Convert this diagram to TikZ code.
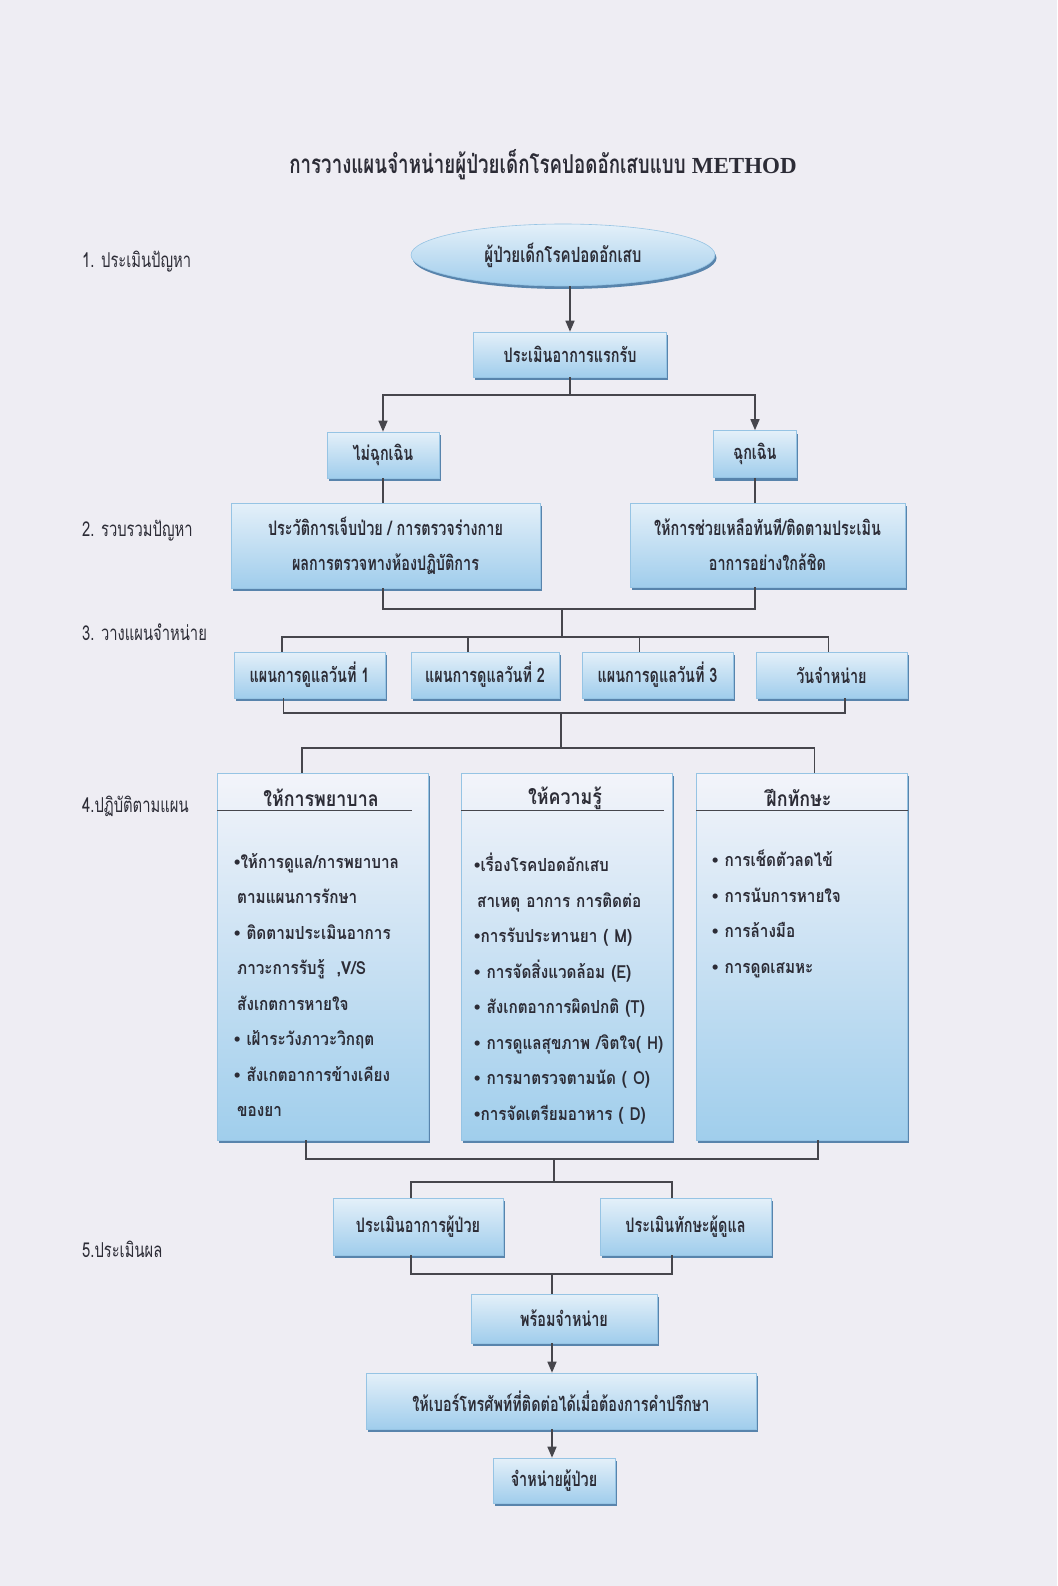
\documentclass[tikz,border=0pt]{standalone}
\usepackage{fontspec}
\usetikzlibrary{shapes.geometric,arrows.meta,shadows,calc}
\newfontfamily\thaiC[Script=Thai,FakeStretch=0.72]{Loma}
\newfontfamily\thaiM[Script=Thai,FakeStretch=0.85]{Loma}
\newfontfamily\serifL{Liberation Serif}
\newfontfamily\bulf{Liberation Sans}
\newcommand\bul{{\bulf •}}
\newcommand\boxfnt{\fontsize{20}{35}\selectfont\thaiC\bfseries}
\newcommand\lblfnt{\fontsize{20.5}{24}\selectfont\thaiC}
\newcommand\hdrfnt{\fontsize{21}{24}\selectfont\thaiM\bfseries}
\definecolor{pagebg}{RGB}{238,237,243}
\definecolor{boxtop}{RGB}{228,240,249}
\definecolor{boxbot}{RGB}{160,205,236}
\definecolor{boxedge}{RGB}{150,196,228}
\definecolor{boxshad}{RGB}{88,132,172}
\definecolor{coltop}{RGB}{243,244,250}
\definecolor{colmid}{RGB}{224,235,246}
\definecolor{colbot}{RGB}{160,206,236}
\definecolor{ink}{RGB}{44,44,54}
\definecolor{wirec}{RGB}{70,70,76}
\tikzset{
  x=1pt, y=-1pt,
  wire/.style={draw=wirec, line width=1.5pt},
  arr/.style={wire, -{Triangle[length=11pt,width=9pt]}},
  fbox/.style={draw=boxedge, line width=0.6pt, top color=boxtop, bottom color=boxbot,
    drop shadow={shadow xshift=1.5pt, shadow yshift=-3pt, fill=boxshad, opacity=1},
    inner sep=0pt, text=ink, font=\boxfnt, align=center},
  colbox/.style={draw=boxedge, line width=0.6pt, top color=coltop, middle color=colmid, bottom color=colbot,
    drop shadow={shadow xshift=1.5pt, shadow yshift=-3pt, fill=boxshad, opacity=1},
    inner sep=0pt, minimum width=211pt, minimum height=367pt},
  lbl/.style={anchor=west, inner sep=0pt, text=ink, font=\lblfnt},
  hdr/.style={inner sep=0pt, text=ink, font=\hdrfnt},
  coltxt/.style={anchor=north west, inner sep=0pt, text=ink, text width=200pt, align=left},
  uline/.style={draw=wirec, line width=1.3pt}
}
\begin{document}
\begin{tikzpicture}
\useasboundingbox (0,0) rectangle (1057,1586);
\fill[pagebg] (0,0) rectangle (1057,1586);

% title
\node[inner sep=0pt, text=ink] (title) at (543,165)
  {\fontsize{26}{30}\selectfont\thaiC\bfseries การวางแผนจำหน่ายผู้ป่วยเด็กโรคปอดอักเสบแบบ {\serifL\bfseries\fontsize{23}{26}\selectfont METHOD}};

% left labels
\node[lbl] (l1) at (82,262) {1. ประเมินปัญหา};
\node[lbl] (l2) at (82,531) {2. รวบรวมปัญหา};
\node[lbl] (l3) at (82,632) {3. วางแผนจำหน่าย};
\node[lbl] (l4) at (82,806) {4.ปฏิบัติตามแผน};
\node[lbl] (l5) at (82,1249) {5.ประเมินผล};

% top part
\node[fbox, ellipse, minimum width=304pt, minimum height=62pt, font=\fontsize{21}{24}\selectfont\thaiC\bfseries] (pt) at (563,255) {ผู้ป่วยเด็กโรคปอดอักเสบ};
\node[fbox, minimum width=193pt, minimum height=45pt] (first) at (570,354.5) {ประเมินอาการแรกรับ};
\node[fbox, minimum width=112pt, minimum height=46pt] (nE) at (383,455) {ไม่ฉุกเฉิน};
\node[fbox, minimum width=83pt, minimum height=47pt] (E) at (755,454) {ฉุกเฉิน};
\node[fbox, minimum width=309pt, minimum height=85pt] (hist) at (385.5,545.5) {ประวัติการเจ็บป่วย / การตรวจร่างกาย\\ผลการตรวจทางห้องปฏิบัติการ};
\node[fbox, minimum width=275pt, minimum height=84pt] (help) at (767.5,545) {ให้การช่วยเหลือทันที/ติดตามประเมิน\\อาการอย่างใกล้ชิด};

% day plans
\node[fbox, minimum width=151pt, minimum height=46pt] (day1) at (309.5,675) {แผนการดูแลวันที่ 1};
\node[fbox, minimum width=148pt, minimum height=46pt] (day2) at (485,675) {แผนการดูแลวันที่ 2};
\node[fbox, minimum width=151pt, minimum height=46pt] (day3) at (657.5,675) {แผนการดูแลวันที่ 3};
\node[fbox, minimum width=151pt, minimum height=46pt] (day4) at (831.5,675) {วันจำหน่าย};

% columns
\node[colbox] (col1) at (323,956.5) {};
\node[colbox] (col2) at (567,956.5) {};
\node[colbox] (col3) at (802,956.5) {};
\node[hdr] (h1) at (321,798) {ให้การพยาบาล};
\node[hdr] (h2) at (565,798) {ให้ความรู้};
\node[hdr] (h3) at (799,798) {ฝึกทักษะ};
\draw[uline] ($(col1.north west)+(0,38)$) -- ($(col1.north east)+(-17,38)$);
\draw[uline] ($(col2.north west)+(0,38)$) -- ($(col2.north east)+(-9,38)$);
\draw[uline] ($(col3.north west)+(0,38)$) -- ($(col3.north east)+(0,38)$);

\node[coltxt, font=\fontsize{18}{35.5}\selectfont\thaiM\bfseries] (t1) at (234,853) {%
\bul ให้การดูแล/การพยาบาล\\
\hspace*{3pt}ตามแผนการรักษา\\
\bul\ ติดตามประเมินอาการ\\
\hspace*{3pt}ภาวะการรับรู้\ \ ,V/S\\
\hspace*{3pt}สังเกตการหายใจ\\
\bul\ เฝ้าระวังภาวะวิกฤต\\
\bul\ สังเกตอาการข้างเคียง\\
\hspace*{3pt}ของยา};
\node[coltxt, font=\fontsize{18}{35.5}\selectfont\thaiM\bfseries] (t2) at (474,853) {%
\bul เรื่องโรคปอดอักเสบ\\
\hspace*{3pt}สาเหตุ อาการ การติดต่อ\\
\bul การรับประทานยา ( M)\\
\bul\ การจัดสิ่งแวดล้อม (E)\\
\bul\ สังเกตอาการผิดปกติ (T)\\
\bul\ การดูแลสุขภาพ /จิตใจ( H)\\
\bul\ การมาตรวจตามนัด ( O)\\
\bul การจัดเตรียมอาหาร ( D)};
\node[coltxt, font=\fontsize{18}{35.5}\selectfont\thaiM\bfseries] (t3) at (712,850) {%
\bul\ การเช็ดตัวลดไข้\\
\bul\ การนับการหายใจ\\
\bul\ การล้างมือ\\
\bul\ การดูดเสมหะ};

% evaluation
\node[fbox, minimum width=170pt, minimum height=57pt] (evalP) at (418,1226.5) {ประเมินอาการผู้ป่วย};
\node[fbox, minimum width=171pt, minimum height=57pt] (evalC) at (685.5,1226.5) {ประเมินทักษะผู้ดูแล};
\node[fbox, minimum width=186pt, minimum height=49pt] (ready) at (564,1318.5) {พร้อมจำหน่าย};
\node[fbox, minimum width=390pt, minimum height=56pt] (phone) at (561,1401) {ให้เบอร์โทรศัพท์ที่ติดต่อได้เมื่อต้องการคำปรึกษา};
\node[fbox, minimum width=122pt, minimum height=45pt] (fin) at (554,1480.5) {จำหน่ายผู้ป่วย};

% connectors
\draw[arr] (pt.south -| first.north) -- (first.north);
\coordinate (j1) at (570,395);
\draw[wire] (first.south) -- (j1);
\draw[arr] (j1) -| (nE.north);
\draw[arr] (j1) -| (E.north);
\draw[wire] (nE.south) -- (nE.south |- hist.north);
\draw[wire] (E.south) -- (E.south |- help.north);
\coordinate (j2) at (562,609);
\coordinate (j3) at (562,637);
\draw[wire] (hist.south -| nE.south) |- (j2);
\draw[wire] (help.south -| E.south) |- (j2);
\draw[wire] (j2) -- (j3);
\draw[wire] (j3) -| ($(day1.north west)!0.32!(day1.north east)$);
\draw[wire] (j3) -| ($(day2.north west)!0.385!(day2.north east)$);
\draw[wire] (j3) -| ($(day3.north west)!0.38!(day3.north east)$);
\draw[wire] (j3) -| ($(day4.north west)!0.48!(day4.north east)$);
\coordinate (j4) at (561,713);
\coordinate (j5) at (561,748);
\draw[wire] ($(day1.south west)!0.33!(day1.south east)$) |- (j4);
\draw[wire] ($(day4.south west)!0.59!(day4.south east)$) |- (j4);
\draw[wire] (j4) -- (j5);
\draw[wire] (j5) -| ($(col1.north west)!0.40!(col1.north east)$);
\draw[wire] (j5) -| ($(col3.north west)!0.56!(col3.north east)$);
\coordinate (j6) at (554,1159);
\coordinate (j7) at (554,1182);
\draw[wire] ($(col1.south west)!0.42!(col1.south east)$) |- (j6);
\draw[wire] ($(col3.south west)!0.576!(col3.south east)$) |- (j6);
\draw[wire] (j6) -- (j7);
\draw[wire] (j7) -| ($(evalP.north west)!0.46!(evalP.north east)$);
\draw[wire] (j7) -| ($(evalC.north west)!0.42!(evalC.north east)$);
\coordinate (j8) at (552,1274);
\draw[wire] ($(evalP.south west)!0.46!(evalP.south east)$) |- (j8);
\draw[wire] ($(evalC.south west)!0.42!(evalC.south east)$) |- (j8);
\draw[wire] (j8) -- (j8 |- ready.north);
\coordinate (ax) at (552,0);
\draw[arr] (ready.south -| ax) -- (phone.north -| ax);
\draw[arr] (phone.south -| ax) -- (fin.north -| ax);
\end{tikzpicture}
\end{document}
